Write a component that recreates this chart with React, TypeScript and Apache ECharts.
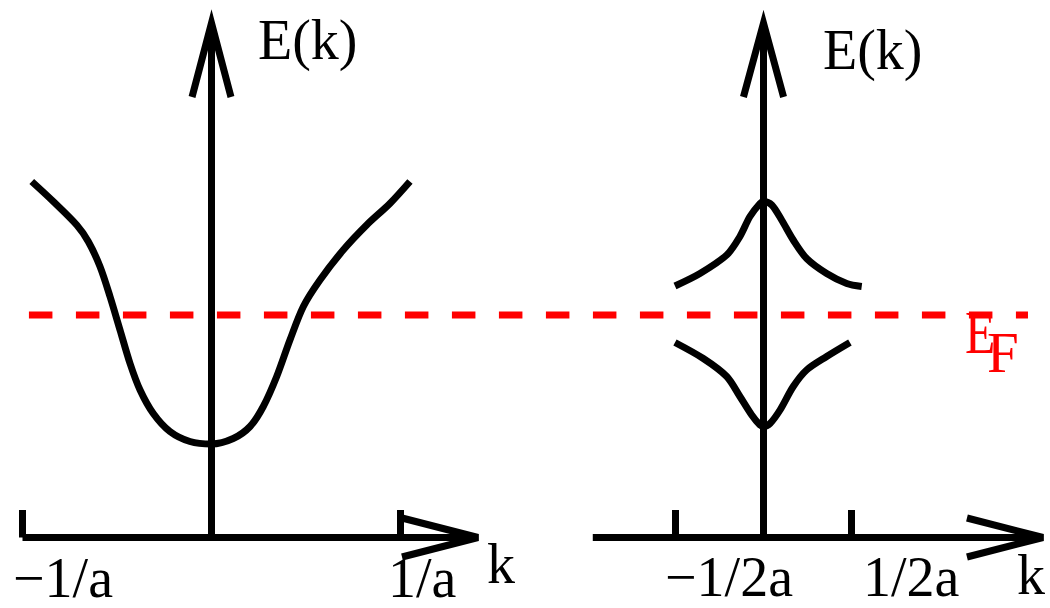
import React, { useEffect, useRef } from "react";
import * as echarts from "echarts";

// ---- data (k in units of 1/a, E in arbitrary energy units) ----
const leftBand: [number, number][] = [
  [-0.951, 7.12], [-0.837, 6.72], [-0.713, 6.25], [-0.652, 5.92], [-0.59, 5.42],
  [-0.537, 4.82], [-0.484, 4.15], [-0.431, 3.48], [-0.378, 2.95], [-0.308, 2.48],
  [-0.22, 2.12], [-0.114, 1.92], [0, 1.87], [0.115, 1.98], [0.204, 2.22],
  [0.274, 2.62], [0.345, 3.22], [0.415, 3.95], [0.486, 4.62], [0.574, 5.15],
  [0.697, 5.75], [0.821, 6.25], [0.944, 6.68], [1.05, 7.12],
];
const rightUpperBand: [number, number][] = [
  [-0.503, 5.03], [-0.361, 5.28], [-0.209, 5.65], [-0.134, 6.02], [-0.077, 6.42],
  [-0.02, 6.68], [0, 6.72], [0.047, 6.65], [0.103, 6.35], [0.169, 5.95],
  [0.245, 5.58], [0.359, 5.28], [0.473, 5.08], [0.558, 5.02],
];
const rightLowerBand: [number, number][] = [
  [-0.503, 3.9], [-0.342, 3.58], [-0.209, 3.22], [-0.134, 2.82], [-0.067, 2.45],
  [-0.02, 2.25], [0, 2.22], [0.037, 2.28], [0.094, 2.55], [0.169, 3.02],
  [0.245, 3.35], [0.359, 3.62], [0.491, 3.9],
];
const fermiEnergy = 4.45;
const fermiSpanK = [-0.966, 4.32];

const leftTicks = [-1, 1];
const leftTickLabels = ["\u22121/a", "1/a"];
const rightTicks = [-0.5, 0.5];
const rightTickLabels = ["\u22121/2a", "1/2a"];
const tickHeight = 0.55;

const leftKAxisSpan = [-1, 1.41];
const rightKAxisSpan = [-0.97, 1.588];
const eAxisTop = 10.29;
const eArrowBase = 8.81;
const leftEArrowHalf = 0.103;
const rightEArrowHalf = 0.114;
const kArrowHalf = 0.39;
const leftKArrowBase = 1.008;
const rightKArrowBase = 1.156;

const FONT = "Liberation Serif, Times New Roman, serif";
const BLACK = "#000000";
const RED = "#ff0000";
const W = 7;

function lineSeries(data: any[], grid: number, extra: any = {}) {
  return {
    type: "line",
    xAxisIndex: grid,
    yAxisIndex: grid,
    data,
    symbol: "none",
    clip: false,
    silent: true,
    lineStyle: { color: BLACK, width: W, cap: "butt", join: "miter", miterLimit: 10 },
    ...extra,
  };
}

function txt(text: string, x: number, y: number, size: number, color: string, extra: any = {}) {
  return {
    type: "text",
    x,
    y,
    silent: true,
    ...extra,
    style: {
      text,
      fill: color,
      fontSize: size,
      fontFamily: FONT,
      align: "left",
      verticalAlign: "middle",
      textAlign: "left",
      textVerticalAlign: "middle",
    },
  };
}

export default function App() {
  const ref = useRef<HTMLDivElement>(null);
  useEffect(() => {
    if (!ref.current) return;
    const chart = echarts.init(ref.current, null, { renderer: "svg" });
    const series: any[] = [];
    // Fermi level
    series.push(
      lineSeries(
        fermiSpanK.map((k) => [k, fermiEnergy]),
        0,
        { lineStyle: { color: RED, width: W, type: [23.5, 23.5], cap: "butt" } }
      )
    );
    // axes drawn as lines
    series.push(lineSeries(leftKAxisSpan.map((k) => [k, 0]), 0));
    series.push(lineSeries([[leftKArrowBase, kArrowHalf], [leftKAxisSpan[1], 0], [leftKArrowBase, -kArrowHalf]], 0));
    series.push(lineSeries([[0, 0], [0, eAxisTop]], 0));
    series.push(lineSeries([[-leftEArrowHalf, eArrowBase], [0, eAxisTop], [leftEArrowHalf, eArrowBase]], 0));
    leftTicks.forEach((k) => series.push(lineSeries([[k, 0], [k, tickHeight]], 0)));

    series.push(lineSeries(rightKAxisSpan.map((k) => [k, 0]), 1));
    series.push(lineSeries([[rightKArrowBase, kArrowHalf], [rightKAxisSpan[1], 0], [rightKArrowBase, -kArrowHalf]], 1));
    series.push(lineSeries([[0, 0], [0, eAxisTop]], 1));
    series.push(lineSeries([[-rightEArrowHalf, eArrowBase], [0, eAxisTop], [rightEArrowHalf, eArrowBase]], 1));
    rightTicks.forEach((k) => series.push(lineSeries([[k, 0], [k, tickHeight]], 1)));

    // bands
    const bandStyle = { color: BLACK, width: W, cap: "butt", join: "round" };
    const bandOpts = { smooth: 0.3, lineStyle: bandStyle };
    series.push(lineSeries(leftBand, 0, bandOpts));
    series.push(lineSeries(rightUpperBand, 1, bandOpts));
    series.push(lineSeries(rightLowerBand, 1, bandOpts));

    chart.setOption({
      animation: false,
      backgroundColor: "#ffffff",
      grid: [
        // left panel: 189 px per 1/a, widened so the Fermi line spans the page
        { left: 22.5, top: 10, width: 1027.5, height: 527.5 },
        { left: 587.5, top: 10, width: 457.6, height: 527.5 },
      ],
      xAxis: [
        { type: "value", gridIndex: 0, min: -1, max: 4.4365, show: false },
        { type: "value", gridIndex: 1, min: -1, max: 1.6, show: false },
      ],
      yAxis: [
        { type: "value", gridIndex: 0, min: 0, max: 10.55, show: false },
        { type: "value", gridIndex: 1, min: 0, max: 10.55, show: false },
      ],
      series,
    });

    // tick labels positioned from the axes' scales
    const labelOffsetsL = [[-9.5, 40.5], [-12.5, 40.5]];
    const labelOffsetsR = [[-10.5, 39], [11.5, 39]];
    const tickTexts: any[] = [];
    leftTicks.forEach((k, i) => {
      const p = chart.convertToPixel({ gridIndex: 0 }, [k, 0]) as number[];
      tickTexts.push(txt(leftTickLabels[i], p[0] + labelOffsetsL[i][0], p[1] + labelOffsetsL[i][1], 56, BLACK));
    });
    rightTicks.forEach((k, i) => {
      const p = chart.convertToPixel({ gridIndex: 1 }, [k, 0]) as number[];
      tickTexts.push(txt(rightTickLabels[i], p[0] + labelOffsetsR[i][0], p[1] + labelOffsetsR[i][1], 56, BLACK));
    });

    chart.setOption({
      graphic: [
        txt("E(k)", 258, 40, 56, BLACK),
        txt("E(k)", 823, 50, 56, BLACK),
        txt("k", 487, 563.5, 56, BLACK),
        txt("k", 1017, 574.5, 56, BLACK),
        txt("E", 965, 332.5, 62, RED, { scaleX: 0.8 }),
        txt("F", 987, 352, 57, RED),
        ...tickTexts,
      ],
    });
    return () => chart.dispose();
  }, []);
  return (
    <div
      ref={ref}
      style={{ position: "fixed", left: 0, top: 0, width: 1050, height: 608, background: "#fff" }}
    />
  );
}
